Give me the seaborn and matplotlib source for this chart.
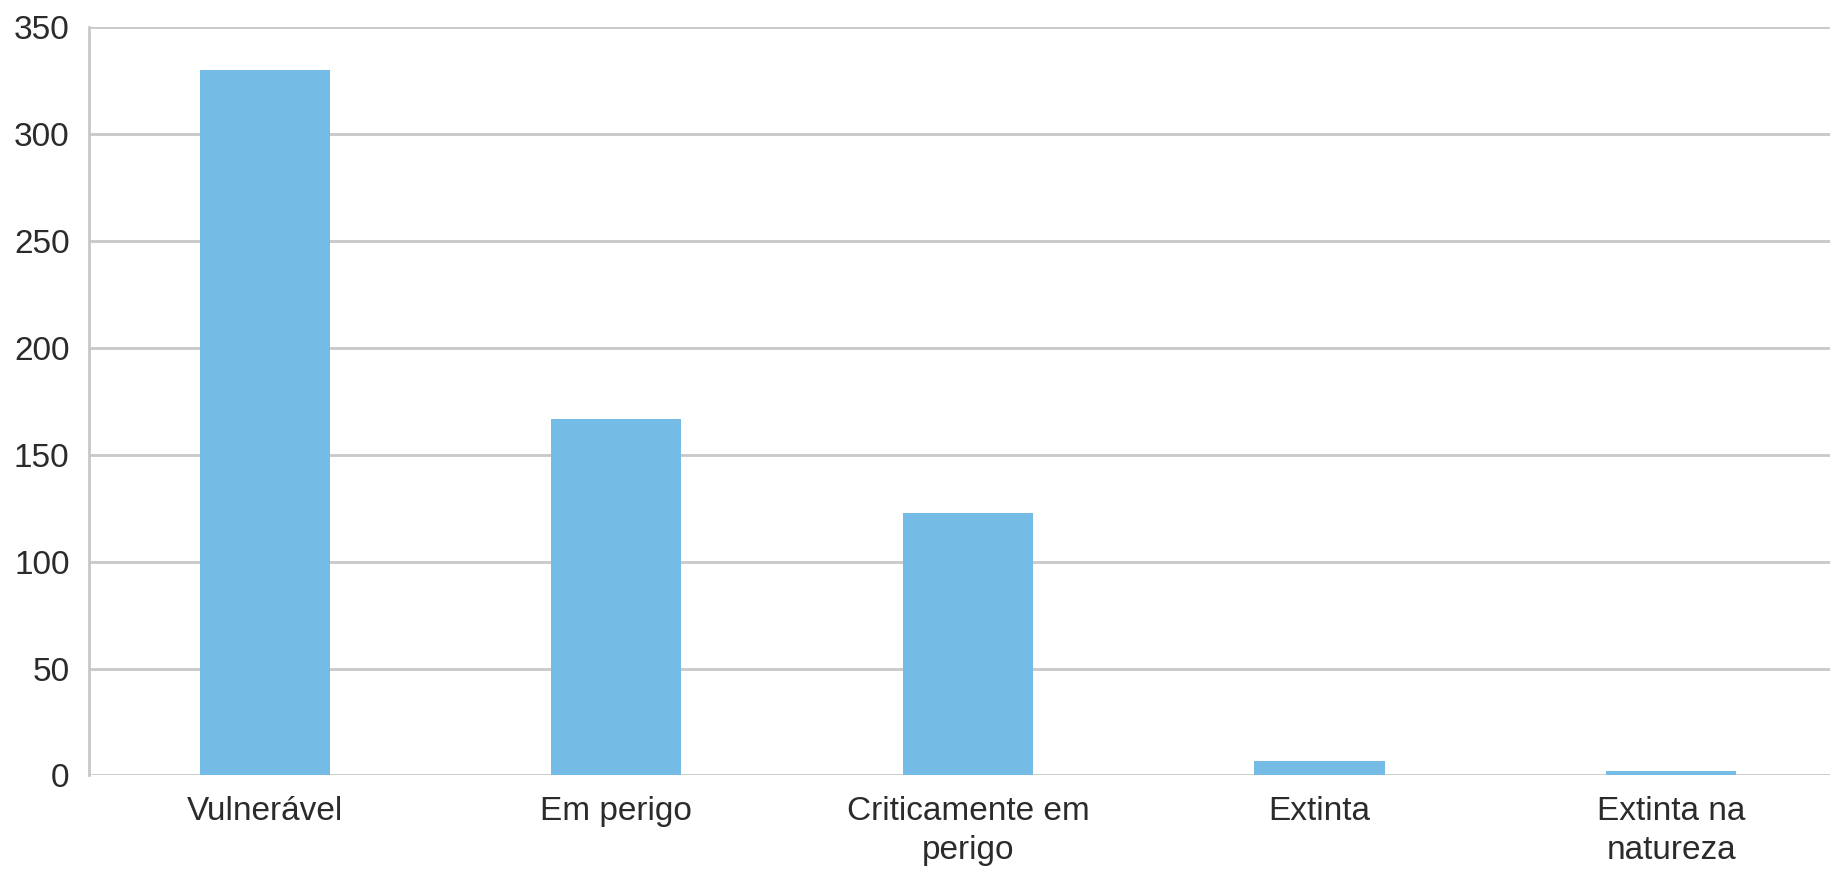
import pandas as pd
import matplotlib
matplotlib.use('Agg')
import matplotlib.pyplot as plt
import seaborn as sns

# Data
categories = ['Vulnerável', 'Em perigo', 'Criticamente em\nperigo', 'Extinta', 'Extinta na\nnatureza']
counts = [330, 166.5, 122.5, 7, 2.2]

df = pd.DataFrame({'categoria': categories, 'especies': counts})

sns.set_style('white')
plt.rcParams['font.family'] = ['Liberation Sans', 'DejaVu Sans']

fig = plt.figure(figsize=(18.31, 8.69), dpi=100)
ax = fig.add_axes([0.0486, 0.1076, 0.9514, 0.8615])

sns.barplot(data=df, x='categoria', y='especies', color='#74BCE6',
            saturation=1, width=0.37, linewidth=0, ax=ax)

ax.set_ylim(0, 350)
ax.set_xlim(-0.5, 4.455)
ax.set_yticks(range(0, 351, 50))
ax.yaxis.grid(True, color='#c8c8c8', linewidth=2)
ax.set_axisbelow(True)
ax.set_xlabel('')
ax.set_ylabel('')

for s in ['top', 'right', 'bottom']:
    ax.spines[s].set_visible(False)
ax.spines['left'].set_color('#c8c8c8')
ax.spines['left'].set_linewidth(2)

ax.tick_params(axis='both', length=0, labelsize=24, labelcolor='#2b2b2b')
ax.tick_params(axis='y', pad=14)
ax.tick_params(axis='x', pad=15)
for lbl in ax.get_xticklabels():
    lbl.set_linespacing(1.3)

fig.savefig('out.png', dpi=100)
